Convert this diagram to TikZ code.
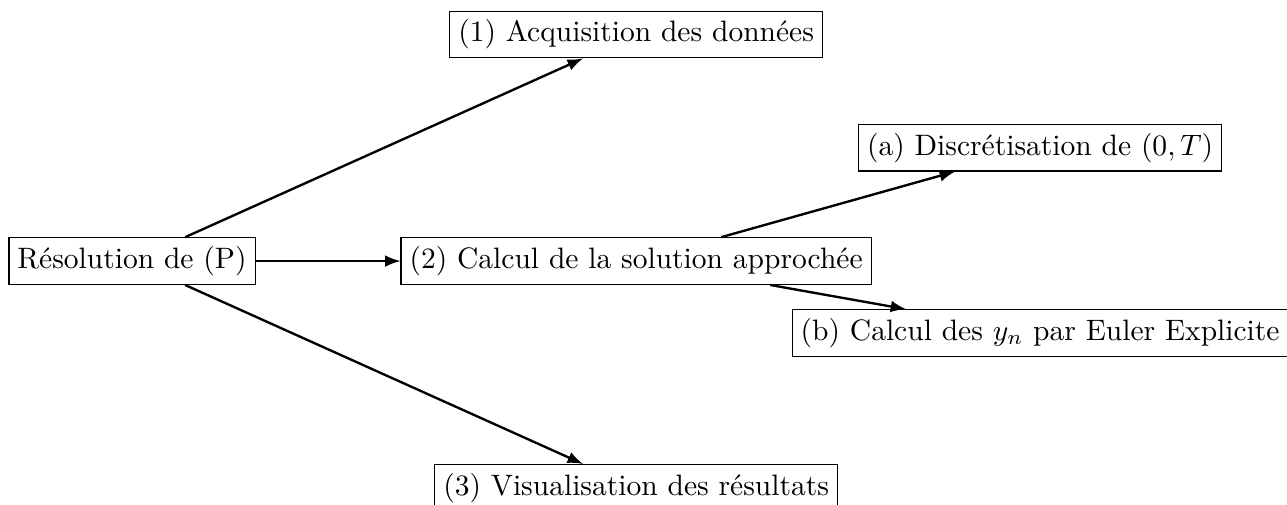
\documentclass[tikz,border=0pt]{standalone}
\usetikzlibrary{arrows}
\begin{document}
\begin{tikzpicture}[x=1pt,y=-1pt,
  box/.style={draw, inner sep=2.9pt},
  link/.style={-latex, thick}]
\useasboundingbox (0,0) rectangle (435.8,171.0);
\node[box] (root) at (44.7,88.4) {Résolution de (P)};
\node[box] (acq) at (215.4,11.7) {(1) Acquisition des données};
\node[box] (calc) at (215.4,88.4) {(2) Calcul de la solution approchée};
\node[box] (visu) at (215.4,165.2) {(3) Visualisation des résultats};
\node[box] (disc) at (352.2,50.0) {(a) Discrétisation de $(0,T)$};
\node[box] (euler) at (352.2,112.8) {(b) Calcul des $y_n$ par Euler Explicite};
\draw[link] (root) -- (acq);
\draw[link] (root) -- (calc);
\draw[link] (root) -- (visu);
\draw[link] (calc) -- (disc);
\draw[link] (calc) -- (euler);
\end{tikzpicture}
\end{document}
